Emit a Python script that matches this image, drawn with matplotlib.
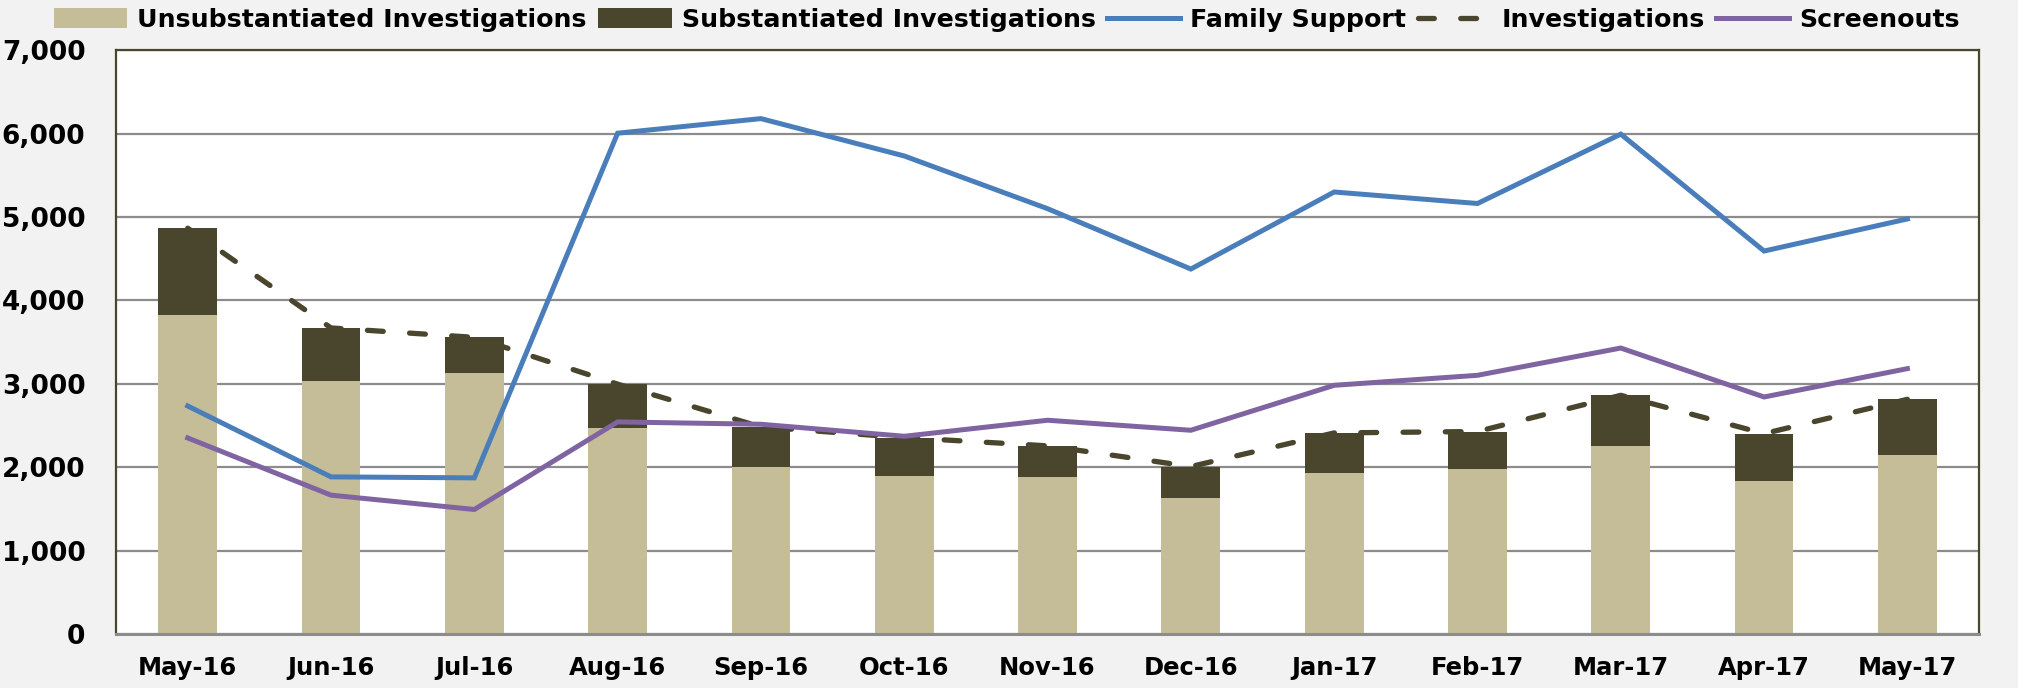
import matplotlib
matplotlib.use("Agg")
import matplotlib.pyplot as plt
import numpy as np
from matplotlib.ticker import FuncFormatter

months = ["May-16", "Jun-16", "Jul-16", "Aug-16", "Sep-16", "Oct-16", "Nov-16",
          "Dec-16", "Jan-17", "Feb-17", "Mar-17", "Apr-17", "May-17"]
unsubstantiated = [3820, 3030, 3135, 2475, 2004, 1892, 1884, 1635, 1933, 1980, 2251, 1836, 2144]
investigations = [4866, 3670, 3557, 2996, 2483, 2355, 2256, 2008, 2411, 2428, 2862, 2403, 2814]
substantiated = [t - u for t, u in zip(investigations, unsubstantiated)]
family_support = [2734, 1884, 1872, 6005, 6180, 5732, 5100, 4376, 5300, 5162, 5994, 4592, 4977]
screenouts = [2351, 1665, 1493, 2543, 2515, 2371, 2563, 2443, 2982, 3102, 3429, 2842, 3182]

c_unsub = "#C4BD97"
c_sub = "#4A452D"
c_blue = "#4A7EBB"
c_purple = "#8064A2"

plt.rcParams['font.family'] = ['DejaVu Sans']

fig = plt.figure(figsize=(20.18, 6.88), dpi=100)
fig.patch.set_facecolor("#F2F2F2")
ax = fig.add_axes([0.0575, 0.0785, 0.9232, 0.8485])
ax.set_facecolor("white")

x = np.arange(len(months))
w = 0.41
ax.bar(x, unsubstantiated, w, color=c_unsub, label="Unsubstantiated Investigations", zorder=2)
ax.bar(x, substantiated, w, bottom=unsubstantiated, color=c_sub,
       label="Substantiated Investigations", zorder=2)
ax.plot(x, family_support, color=c_blue, lw=3.6, label="Family Support", zorder=4,
        solid_joinstyle="miter")
ax.plot(x, investigations, color=c_sub, lw=3.8, linestyle=(0, (3.0, 5.0)),
        dash_capstyle="round", label="Investigations", zorder=3)
ax.plot(x, screenouts, color=c_purple, lw=3.6, label="Screenouts", zorder=5,
        solid_joinstyle="miter")

ax.set_xlim(-0.5, len(months) - 0.5)
ax.set_ylim(0, 7000)
ax.set_yticks(np.arange(0, 7001, 1000))
ax.yaxis.set_major_formatter(FuncFormatter(lambda v, p: f"{int(v):,}"))
ax.set_xticks(x)
ax.set_xticklabels(months)
ax.tick_params(axis="both", length=0, labelsize=17.5, labelcolor="black")
ax.tick_params(axis="y", pad=22, labelsize=19)
ax.tick_params(axis="x", pad=16)
for lab in ax.get_xticklabels() + ax.get_yticklabels():
    lab.set_fontweight("bold")

ax.yaxis.grid(True, color="#8C8C8C", lw=1.6, zorder=1)
ax.set_axisbelow(True)

for side in ["left", "top", "right"]:
    ax.spines[side].set_color("#4A452D")
    ax.spines[side].set_linewidth(1.6)
ax.spines["bottom"].set_color("#8C8C8C")
ax.spines["bottom"].set_linewidth(2.2)

handles, labels = ax.get_legend_handles_labels()
h_map = dict(zip(labels, handles))
leg_labels = ["Unsubstantiated Investigations", "Substantiated Investigations",
              "Family Support", "Investigations", "Screenouts"]
leg = fig.legend([h_map[l] for l in leg_labels], leg_labels, loc="center",
                 bbox_to_anchor=(0.499, 0.971), ncol=5, frameon=False,
                 prop={"size": 18.2, "weight": "bold"}, handlelength=2.9,
                 handletextpad=0.4, columnspacing=0.45, handleheight=0.8)

fig.savefig("out.png", dpi=100, facecolor=fig.get_facecolor())
